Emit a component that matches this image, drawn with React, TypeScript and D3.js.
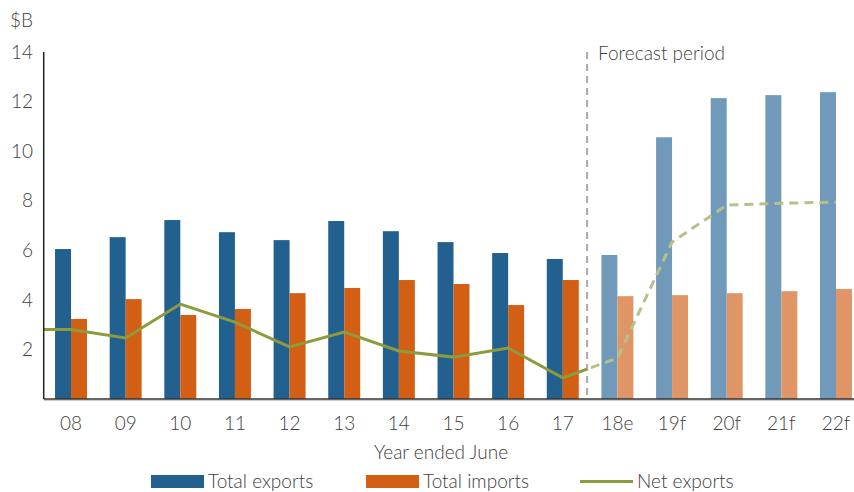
import { line, scaleBand, scaleLinear } from "d3";

const categories = ["08", "09", "10", "11", "12", "13", "14", "15", "16", "17", "18e", "19f", "20f", "21f", "22f"];
const totalExports = [6.05, 6.53, 7.22, 6.73, 6.41, 7.18, 6.77, 6.33, 5.89, 5.65, 5.81, 10.56, 12.14, 12.26, 12.38];
const totalImports = [3.23, 4.03, 3.39, 3.63, 4.27, 4.48, 4.8, 4.64, 3.79, 4.8, 4.15, 4.19, 4.27, 4.35, 4.44];
const netExports = [2.8, 2.46, 3.83, 3.1, 2.1, 2.7, 1.94, 1.69, 2.06, 0.85, 1.65, 6.33, 7.82, 7.9, 7.94];
const yTicks = [2, 4, 6, 8, 10, 12, 14];
const firstForecast = 10;

const colors = {
  exports: "#22608f",
  imports: "#d35f14",
  exportsForecast: "#7199ba",
  importsForecast: "#e09566",
  net: "#8d9b3c",
  netForecast: "#b5c189",
  text: "#404040",
};

export default function App() {
  const width = 854;
  const height = 492;
  const plot = { left: 43.7, right: 863.3, top: 52, bottom: 399 };
  const font = "Lato, 'Open Sans', sans-serif";

  const x = scaleBand().domain(categories).range([plot.left, plot.right]).padding(0);
  const y = scaleLinear().domain([0, 14]).range([plot.bottom, plot.top]);
  const groupWidth = x.bandwidth() * 0.585;
  const sub = scaleBand()
    .domain(["exports", "imports"])
    .range([(x.bandwidth() - groupWidth) / 2, (x.bandwidth() + groupWidth) / 2]);

  const center = (i: number) => (x(categories[i]) ?? 0) + x.bandwidth() / 2;
  // dashed divider sits a little left of the midpoint between 17 and 18e
  const dividerX = (center(firstForecast - 1) + center(firstForecast)) / 2 - 3;

  const netPoints: [number, number][] = [
    [plot.left, y(netExports[0])],
    ...netExports.map((v, i) => [center(i), y(v)] as [number, number]),
  ];
  const path = line();

  return (
    <div style={{ position: "absolute", left: 0, top: 0 }}>
      <svg
        width={width}
        height={height}
        viewBox={`0 0 ${width} ${height}`}
        style={{ display: "block", fontFamily: font, fontWeight: 300 }}
      >
        <defs>
          <clipPath id="actual">
            <rect x={0} y={0} width={dividerX} height={height} />
          </clipPath>
          <clipPath id="forecast">
            <rect x={dividerX} y={0} width={width - dividerX} height={height} />
          </clipPath>
        </defs>
        <rect width={width} height={height} fill="#fff" />

        <text x={10} y={27} fontSize={19} fill={colors.text}>$B</text>
        {yTicks.map((t) => (
          <text key={t} x={33} y={y(t)} dy="0.35em" textAnchor="end" fontSize={19} fill={colors.text}>
            {t}
          </text>
        ))}

        {categories.map((c, i) => {
          const forecast = i >= firstForecast;
          const x0 = x(c) ?? 0;
          return (
            <g key={c}>
              <rect
                x={x0 + (sub("exports") ?? 0)}
                y={y(totalExports[i])}
                width={sub.bandwidth()}
                height={y(0) - y(totalExports[i])}
                fill={forecast ? colors.exportsForecast : colors.exports}
              />
              <rect
                x={x0 + (sub("imports") ?? 0)}
                y={y(totalImports[i])}
                width={sub.bandwidth()}
                height={y(0) - y(totalImports[i])}
                fill={forecast ? colors.importsForecast : colors.imports}
              />
              <text x={center(i)} y={430} textAnchor="middle" fontSize={19} fill={colors.text}>
                {c}
              </text>
            </g>
          );
        })}

        <line x1={dividerX} x2={dividerX} y1={plot.top} y2={plot.bottom} stroke="#aaaaaa" strokeWidth={2} strokeDasharray="7 5" />
        <text x={dividerX + 11} y={60} fontSize={19} fill={colors.text}>Forecast period</text>

        <path d={path(netPoints) ?? ""} fill="none" stroke={colors.net} strokeWidth={3} clipPath="url(#actual)" />
        <path
          d={path(netPoints.slice(firstForecast)) ?? ""}
          fill="none"
          stroke={colors.netForecast}
          strokeWidth={3}
          strokeDasharray="9 6"
          clipPath="url(#forecast)"
        />

        <line x1={plot.left} x2={plot.left} y1={plot.top} y2={plot.bottom} stroke="#222" strokeWidth={1.5} />
        <line x1={plot.left} x2={width} y1={plot.bottom} y2={plot.bottom} stroke="#333" strokeWidth={1.5} />
        <line x1={plot.left} x2={width} y1={plot.bottom + 1.5} y2={plot.bottom + 1.5} stroke="#ccc" strokeWidth={1} />

        <text x={441} y={459} textAnchor="middle" fontSize={19} fill={colors.text}>Year ended June</text>

        <g fontSize={19} fill={colors.text}>
          <rect x={151} y={475} width={53} height={13} fill={colors.exports} />
          <text x={208} y={488}>Total exports</text>
          <rect x={366} y={475} width={53} height={13} fill={colors.imports} />
          <text x={423} y={488}>Total imports</text>
          <line x1={580} x2={633} y1={481.5} y2={481.5} stroke={colors.net} strokeWidth={3} />
          <text x={637} y={488}>Net exports</text>
        </g>
      </svg>
    </div>
  );
}
